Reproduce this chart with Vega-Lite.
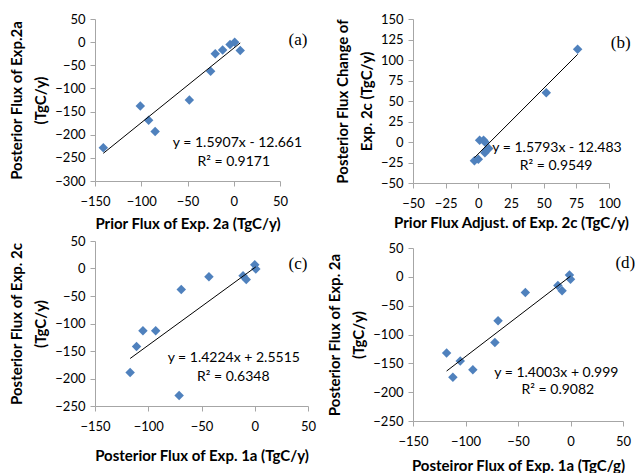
{
  "$schema": "https://vega.github.io/schema/vega-lite/v6.json",
  "padding": {"left": 9, "top": 13, "right": 0, "bottom": 0},
  "background": "white",
  "config": {
    "font": "Lato",
    "view": {"stroke": null},
    "axis": {"grid": false, "domainColor": "#a6a6a6", "tickColor": "#a6a6a6", "tickSize": 5, "labelFont": "Lato", "labelFontSize": 13, "labelColor": "#000000", "labelFlush": false, "labelOverlap": false, "titleFont": "Lato", "titleFontSize": 15, "titleFontWeight": "bold", "titleColor": "#000000", "titleLineHeight": 24},
    "axisX": {"labelPadding": 9},
    "axisY": {"labelPadding": 5, "titlePadding": 6}
  },
  "spacing": 11,
  "hconcat": [
    {
      "bounds": "flush",
      "spacing": 60,
      "vconcat": [
        {
          "width": 185, "height": 162,
          "layer": [
            {
              "data": {"values": [
                {"x": -141, "y": -228}, {"x": -101, "y": -138}, {"x": -92, "y": -169}, {"x": -85, "y": -193},
                {"x": -48, "y": -125}, {"x": -25, "y": -63}, {"x": -20, "y": -25}, {"x": -12, "y": -17},
                {"x": -4, "y": -5}, {"x": 1, "y": 0}, {"x": 7, "y": -18}
              ]},
              "encoding": {
                "x": {"field": "x", "type": "quantitative", "scale": {"domain": [-150, 50], "nice": false, "zero": false}, "axis": {"values": [-150, -100, -50, 0, 50], "title": "Prior Flux of Exp. 2a (TgC/y)", "titlePadding": 8}},
                "y": {"field": "y", "type": "quantitative", "scale": {"domain": [-300, 50], "nice": false, "zero": false}, "axis": {"values": [-300, -250, -200, -150, -100, -50, 0, 50], "title": ["Posterior Flux of Exp.2a", "(TgC/y)"]}}
              },
              "layer": [
                {"mark": {"type": "point", "shape": "diamond", "filled": true, "color": "#4f81bd", "opacity": 1, "size": 90}},
                {"transform": [{"regression": "y", "on": "x"}], "mark": {"type": "line", "color": "#000000", "strokeWidth": 1}}
              ]
            },
            {
              "data": {"values": [{"eq": "y = 1.5907x - 12.661", "r2": "R² = 0.9171", "tag": "(a)"}]},
              "layer": [
                {"mark": {"type": "text", "font": "Lato", "fontSize": 14, "fill": "#000000"}, "encoding": {"text": {"field": "eq", "type": "nominal"}, "x": {"datum": 4, "type": "quantitative", "axis": {"values": [-150, -100, -50, 0, 50], "title": "Prior Flux of Exp. 2a (TgC/y)", "titlePadding": 8}}, "y": {"datum": -218.6, "type": "quantitative", "axis": {"values": [-300, -250, -200, -150, -100, -50, 0, 50], "title": ["Posterior Flux of Exp.2a", "(TgC/y)"]}}}},
                {"mark": {"type": "text", "font": "Lato", "fontSize": 14, "fill": "#000000"}, "encoding": {"text": {"field": "r2", "type": "nominal"}, "x": {"datum": 0, "type": "quantitative", "axis": {"values": [-150, -100, -50, 0, 50], "title": "Prior Flux of Exp. 2a (TgC/y)", "titlePadding": 8}}, "y": {"datum": -258, "type": "quantitative", "axis": {"values": [-300, -250, -200, -150, -100, -50, 0, 50], "title": ["Posterior Flux of Exp.2a", "(TgC/y)"]}}}},
                {"mark": {"type": "text", "font": "Liberation Serif", "fontSize": 17, "fill": "#000000"}, "encoding": {"text": {"field": "tag", "type": "nominal"}, "x": {"datum": 69.5, "type": "quantitative", "axis": {"values": [-150, -100, -50, 0, 50], "title": "Prior Flux of Exp. 2a (TgC/y)", "titlePadding": 8}}, "y": {"datum": 4.7, "type": "quantitative", "axis": {"values": [-300, -250, -200, -150, -100, -50, 0, 50], "title": ["Posterior Flux of Exp.2a", "(TgC/y)"]}}}}
              ]
            }
          ]
        },
        {
          "width": 213, "height": 165,
          "layer": [
            {
              "data": {"values": [
                {"x": -117, "y": -189}, {"x": -111, "y": -142}, {"x": -105, "y": -113}, {"x": -93, "y": -113},
                {"x": -71, "y": -231}, {"x": -69, "y": -38}, {"x": -43, "y": -15}, {"x": -11, "y": -13},
                {"x": -8, "y": -20}, {"x": 0, "y": 7}, {"x": 1, "y": -1}
              ]},
              "encoding": {
                "x": {"field": "x", "type": "quantitative", "scale": {"domain": [-150, 50], "nice": false, "zero": false}, "axis": {"values": [-150, -100, -50, 0, 50], "title": "Posterior Flux of Exp. 1a (TgC/y)", "titlePadding": 15}},
                "y": {"field": "y", "type": "quantitative", "scale": {"domain": [-250, 50], "nice": false, "zero": false}, "axis": {"values": [-250, -200, -150, -100, -50, 0, 50], "title": ["Posterior Flux of Exp. 2c", "(TgC/y)"]}}
              },
              "layer": [
                {"mark": {"type": "point", "shape": "diamond", "filled": true, "color": "#4f81bd", "opacity": 1, "size": 90}},
                {"transform": [{"regression": "y", "on": "x"}], "mark": {"type": "line", "color": "#000000", "strokeWidth": 1}}
              ]
            },
            {
              "data": {"values": [{"eq": "y = 1.4224x + 2.5515", "r2": "R² = 0.6348", "tag": "(c)"}]},
              "layer": [
                {"mark": {"type": "text", "font": "Lato", "fontSize": 14, "fill": "#000000"}, "encoding": {"text": {"field": "eq", "type": "nominal"}, "x": {"datum": -19.7, "type": "quantitative", "axis": {"values": [-150, -100, -50, 0, 50], "title": "Posterior Flux of Exp. 1a (TgC/y)", "titlePadding": 15}}, "y": {"datum": -162.7, "type": "quantitative", "axis": {"values": [-250, -200, -150, -100, -50, 0, 50], "title": ["Posterior Flux of Exp. 2c", "(TgC/y)"]}}}},
                {"mark": {"type": "text", "font": "Lato", "fontSize": 14, "fill": "#000000"}, "encoding": {"text": {"field": "r2", "type": "nominal"}, "x": {"datum": -20.2, "type": "quantitative", "axis": {"values": [-150, -100, -50, 0, 50], "title": "Posterior Flux of Exp. 1a (TgC/y)", "titlePadding": 15}}, "y": {"datum": -196.7, "type": "quantitative", "axis": {"values": [-250, -200, -150, -100, -50, 0, 50], "title": ["Posterior Flux of Exp. 2c", "(TgC/y)"]}}}},
                {"mark": {"type": "text", "font": "Liberation Serif", "fontSize": 17, "fill": "#000000"}, "encoding": {"text": {"field": "tag", "type": "nominal"}, "x": {"datum": 40.6, "type": "quantitative", "axis": {"values": [-150, -100, -50, 0, 50], "title": "Posterior Flux of Exp. 1a (TgC/y)", "titlePadding": 15}}, "y": {"datum": 7.8, "type": "quantitative", "axis": {"values": [-250, -200, -150, -100, -50, 0, 50], "title": ["Posterior Flux of Exp. 2c", "(TgC/y)"]}}}}
              ]
            }
          ]
        }
      ]
    },
    {
      "bounds": "flush",
      "spacing": 65,
      "vconcat": [
        {
          "width": 196, "height": 164,
          "layer": [
            {
              "data": {"values": [
                {"x": 76, "y": 113}, {"x": 52, "y": 60}, {"x": -3, "y": -23}, {"x": 0, "y": -21},
                {"x": 1, "y": 2}, {"x": 4, "y": 2}, {"x": 5, "y": 0}, {"x": 5, "y": -13},
                {"x": 8, "y": -8}, {"x": 6, "y": -10}
              ]},
              "encoding": {
                "x": {"field": "x", "type": "quantitative", "scale": {"domain": [-50, 100], "nice": false, "zero": false}, "axis": {"values": [-50, -25, 0, 25, 50, 75, 100], "title": "Prior Flux Adjust. of Exp. 2c (TgC/y)", "titlePadding": 5}},
                "y": {"field": "y", "type": "quantitative", "scale": {"domain": [-50, 150], "nice": false, "zero": false}, "axis": {"values": [-50, -25, 0, 25, 50, 75, 100, 125, 150], "title": ["Posterior Flux Change of", "Exp. 2c (TgC/y)"]}}
              },
              "layer": [
                {"mark": {"type": "point", "shape": "diamond", "filled": true, "color": "#4f81bd", "opacity": 1, "size": 90}},
                {"transform": [{"regression": "y", "on": "x"}], "mark": {"type": "line", "color": "#000000", "strokeWidth": 1}}
              ]
            },
            {
              "data": {"values": [{"eq": "y = 1.5793x - 12.483", "r2": "R² = 0.9549", "tag": "(b)"}]},
              "layer": [
                {"mark": {"type": "text", "font": "Lato", "fontSize": 14, "fill": "#000000"}, "encoding": {"text": {"field": "eq", "type": "nominal"}, "x": {"datum": 60.2, "type": "quantitative", "axis": {"values": [-50, -25, 0, 25, 50, 75, 100], "title": "Prior Flux Adjust. of Exp. 2c (TgC/y)", "titlePadding": 5}}, "y": {"datum": -7.8, "type": "quantitative", "axis": {"values": [-50, -25, 0, 25, 50, 75, 100, 125, 150], "title": ["Posterior Flux Change of", "Exp. 2c (TgC/y)"]}}}},
                {"mark": {"type": "text", "font": "Lato", "fontSize": 14, "fill": "#000000"}, "encoding": {"text": {"field": "r2", "type": "nominal"}, "x": {"datum": 59.5, "type": "quantitative", "axis": {"values": [-50, -25, 0, 25, 50, 75, 100], "title": "Prior Flux Adjust. of Exp. 2c (TgC/y)", "titlePadding": 5}}, "y": {"datum": -28.7, "type": "quantitative", "axis": {"values": [-50, -25, 0, 25, 50, 75, 100, 125, 150], "title": ["Posterior Flux Change of", "Exp. 2c (TgC/y)"]}}}},
                {"mark": {"type": "text", "font": "Liberation Serif", "fontSize": 17, "fill": "#000000"}, "encoding": {"text": {"field": "tag", "type": "nominal"}, "x": {"datum": 109, "type": "quantitative", "axis": {"values": [-50, -25, 0, 25, 50, 75, 100], "title": "Prior Flux Adjust. of Exp. 2c (TgC/y)", "titlePadding": 5}}, "y": {"datum": 120.8, "type": "quantitative", "axis": {"values": [-50, -25, 0, 25, 50, 75, 100, 125, 150], "title": ["Posterior Flux Change of", "Exp. 2c (TgC/y)"]}}}}
              ]
            }
          ]
        },
        {
          "width": 210, "height": 173,
          "layer": [
            {
              "data": {"values": [
                {"x": -118, "y": -132}, {"x": -112, "y": -174}, {"x": -105, "y": -146}, {"x": -93, "y": -161},
                {"x": -72, "y": -114}, {"x": -69, "y": -76}, {"x": -43, "y": -27}, {"x": -12, "y": -15},
                {"x": -8, "y": -24}, {"x": -1, "y": 3}, {"x": 0, "y": -4}
              ]},
              "encoding": {
                "x": {"field": "x", "type": "quantitative", "scale": {"domain": [-150, 50], "nice": false, "zero": false}, "axis": {"values": [-150, -100, -50, 0, 50], "title": "Posteiror Flux of Exp. 1a (TgC/g)", "titlePadding": 10}},
                "y": {"field": "y", "type": "quantitative", "scale": {"domain": [-250, 50], "nice": false, "zero": false}, "axis": {"values": [-250, -200, -150, -100, -50, 0, 50], "title": ["Posterior Flux of Exp. 2a", "(TgC/y)"]}}
              },
              "layer": [
                {"mark": {"type": "point", "shape": "diamond", "filled": true, "color": "#4f81bd", "opacity": 1, "size": 90}},
                {"transform": [{"regression": "y", "on": "x"}], "mark": {"type": "line", "color": "#000000", "strokeWidth": 1}}
              ]
            },
            {
              "data": {"values": [{"eq": "y = 1.4003x + 0.999", "r2": "R² = 0.9082", "tag": "(d)"}]},
              "layer": [
                {"mark": {"type": "text", "font": "Lato", "fontSize": 14, "fill": "#000000"}, "encoding": {"text": {"field": "eq", "type": "nominal"}, "x": {"datum": -13.5, "type": "quantitative", "axis": {"values": [-150, -100, -50, 0, 50], "title": "Posteiror Flux of Exp. 1a (TgC/g)", "titlePadding": 10}}, "y": {"datum": -166.3, "type": "quantitative", "axis": {"values": [-250, -200, -150, -100, -50, 0, 50], "title": ["Posterior Flux of Exp. 2a", "(TgC/y)"]}}}},
                {"mark": {"type": "text", "font": "Lato", "fontSize": 14, "fill": "#000000"}, "encoding": {"text": {"field": "r2", "type": "nominal"}, "x": {"datum": -12, "type": "quantitative", "axis": {"values": [-150, -100, -50, 0, 50], "title": "Posteiror Flux of Exp. 1a (TgC/g)", "titlePadding": 10}}, "y": {"datum": -196.3, "type": "quantitative", "axis": {"values": [-250, -200, -150, -100, -50, 0, 50], "title": ["Posterior Flux of Exp. 2a", "(TgC/y)"]}}}},
                {"mark": {"type": "text", "font": "Liberation Serif", "fontSize": 17, "fill": "#000000"}, "encoding": {"text": {"field": "tag", "type": "nominal"}, "x": {"datum": 52.2, "type": "quantitative", "axis": {"values": [-150, -100, -50, 0, 50], "title": "Posteiror Flux of Exp. 1a (TgC/g)", "titlePadding": 10}}, "y": {"datum": 24, "type": "quantitative", "axis": {"values": [-250, -200, -150, -100, -50, 0, 50], "title": ["Posterior Flux of Exp. 2a", "(TgC/y)"]}}}}
              ]
            }
          ]
        }
      ]
    }
  ]
}
